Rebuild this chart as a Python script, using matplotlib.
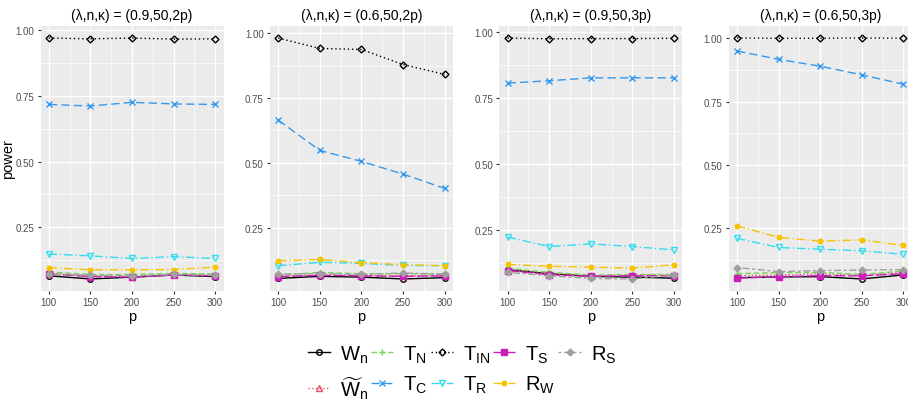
import matplotlib
matplotlib.use("Agg")
import matplotlib.pyplot as plt
from matplotlib.lines import Line2D
from matplotlib.ticker import FixedLocator, FormatStrFormatter

plt.rcParams['font.family'] = ['Liberation Sans', 'DejaVu Sans']
plt.rcParams['mathtext.fontset'] = 'custom'
plt.rcParams['mathtext.rm'] = 'Liberation Sans'
plt.rcParams['mathtext.it'] = 'Liberation Sans'
plt.rcParams['mathtext.bf'] = 'Liberation Sans'

# data
p_values = [100, 150, 200, 250, 300]
panel_titles = ['(λ,n,κ) = (0.9,50,2p)', '(λ,n,κ) = (0.6,50,2p)',
                '(λ,n,κ) = (0.9,50,3p)', '(λ,n,κ) = (0.6,50,3p)']
tests = ['Wn', 'Wtn', 'TN', 'TC', 'TIN', 'TR', 'TS', 'RW', 'RS']
legend_labels = [r'$\mathregular{W_n}$', r'$\mathregular{\widetilde{W}_n}$',
                 r'$\mathregular{T_N}$', r'$\mathregular{T_C}$',
                 r'$\mathregular{T_{IN}}$', r'$\mathregular{T_R}$',
                 r'$\mathregular{T_S}$', r'$\mathregular{R_W}$',
                 r'$\mathregular{R_S}$']

power_09_2p = {
    'Wn':  [0.065, 0.053, 0.060, 0.068, 0.062],
    'Wtn': [0.075, 0.065, 0.062, 0.070, 0.067],
    'TN':  [0.080, 0.070, 0.070, 0.074, 0.072],
    'TC':  [0.718, 0.712, 0.726, 0.720, 0.718],
    'TIN': [0.971, 0.968, 0.971, 0.967, 0.968],
    'TR':  [0.148, 0.141, 0.131, 0.138, 0.131],
    'TS':  [0.072, 0.062, 0.060, 0.068, 0.065],
    'RW':  [0.096, 0.088, 0.088, 0.089, 0.098],
    'RS':  [0.070, 0.067, 0.065, 0.070, 0.067],
}
power_06_2p = {
    'Wn':  [0.055, 0.063, 0.060, 0.053, 0.058],
    'Wtn': [0.064, 0.068, 0.067, 0.065, 0.067],
    'TN':  [0.068, 0.078, 0.073, 0.073, 0.071],
    'TC':  [0.665, 0.548, 0.506, 0.457, 0.402],
    'TIN': [0.981, 0.941, 0.937, 0.879, 0.841],
    'TR':  [0.104, 0.117, 0.113, 0.105, 0.104],
    'TS':  [0.062, 0.067, 0.065, 0.063, 0.065],
    'RW':  [0.123, 0.128, 0.116, 0.108, 0.104],
    'RS':  [0.072, 0.073, 0.071, 0.076, 0.072],
}
power_09_3p = {
    'Wn':  [0.099, 0.084, 0.074, 0.071, 0.067],
    'Wtn': [0.100, 0.084, 0.076, 0.079, 0.079],
    'TN':  [0.105, 0.089, 0.079, 0.081, 0.081],
    'TC':  [0.807, 0.816, 0.827, 0.827, 0.827],
    'TIN': [0.978, 0.975, 0.976, 0.976, 0.977],
    'TR':  [0.223, 0.187, 0.197, 0.187, 0.174],
    'TS':  [0.096, 0.080, 0.074, 0.076, 0.076],
    'RW':  [0.119, 0.112, 0.109, 0.105, 0.118],
    'RS':  [0.089, 0.076, 0.066, 0.064, 0.079],
}
power_06_3p = {
    'Wn':  [0.056, 0.059, 0.060, 0.051, 0.067],
    'Wtn': [0.064, 0.066, 0.072, 0.065, 0.077],
    'TN':  [0.072, 0.076, 0.077, 0.069, 0.082],
    'TC':  [0.949, 0.916, 0.889, 0.855, 0.818],
    'TIN': [1.000, 0.999, 0.999, 1.000, 0.999],
    'TR':  [0.211, 0.175, 0.168, 0.162, 0.148],
    'TS':  [0.054, 0.060, 0.064, 0.063, 0.072],
    'RW':  [0.260, 0.215, 0.200, 0.205, 0.183],
    'RS':  [0.096, 0.080, 0.084, 0.086, 0.088],
}
panels = [power_09_2p, power_06_2p, power_09_3p, power_06_3p]

# style per test: colour, linestyle, marker, filled
styles = {
    'Wn':  ('#000000', '-', 'o', False),
    'Wtn': ('#E8506A', ':', '^', False),
    'TN':  ('#77D45A', (0, (4, 2)), '+', False),
    'TC':  ('#3399EE', (0, (6, 3)), 'x', False),
    'TIN': ('#000000', (0, (1, 2)), 'D', False),
    'TR':  ('#33DDEE', (0, (6, 2, 1, 2)), 'v', False),
    'TS':  ('#CC1FB8', (0, (8, 2)), 's', True),
    'RW':  ('#F5C400', (0, (6, 2, 1, 2)), (8, 2, 0), True),
    'RS':  ('#A0A0A0', (0, (2, 2, 5, 2)), 'D', True),
}


def line_kw(key):
    color, ls, marker, filled = styles[key]
    ms = 3.5 if marker == 'D' else 4
    return dict(color=color, linestyle=ls, linewidth=1.0,
                marker=marker, markersize=ms, markeredgewidth=1.0,
                markerfacecolor=color if filled else 'none',
                markeredgecolor=color)


fig = plt.figure(figsize=(9.08, 4.02), dpi=100)
W, H = 908, 402
left0, step, width = 40.5, 229.4, 183
top, bottom = 27, 292

for i, (data, title) in enumerate(zip(panels, panel_titles)):
    x0 = left0 + i * step
    ax = fig.add_axes([x0 / W, 1 - bottom / H, width / W, (bottom - top) / H])
    ax.set_facecolor('#EBEBEB')
    for key in tests:
        ax.plot(p_values, data[key], zorder=3, **line_kw(key))
    ax.margins(x=0.05, y=0.05)
    ax.xaxis.set_major_locator(FixedLocator([100, 150, 200, 250, 300]))
    ax.xaxis.set_minor_locator(FixedLocator([125, 175, 225, 275]))
    ax.yaxis.set_major_locator(FixedLocator([0.25, 0.5, 0.75, 1.0]))
    ax.yaxis.set_minor_locator(FixedLocator([0.125, 0.375, 0.625, 0.875]))
    ax.yaxis.set_major_formatter(FormatStrFormatter('%.2f'))
    ax.grid(which='major', color='white', linewidth=1.0)
    ax.grid(which='minor', color='white', linewidth=0.5)
    ax.set_axisbelow(True)
    for s in ax.spines.values():
        s.set_visible(False)
    ax.tick_params(which='major', length=2.5, width=0.8, color='#333333',
                   labelcolor='#4D4D4D', labelsize=7, pad=2)
    ax.tick_params(which='minor', length=0)
    ax.set_title(title, fontsize=10, pad=5, color='black')
    ax.set_xlabel('p', fontsize=10.5, labelpad=1)
    if i == 0:
        ax.set_ylabel('power', fontsize=10.5)
        ax.yaxis.set_label_coords(-(x0 - 15.5) / width, 0.5)

handles = [Line2D([], [], **line_kw(k)) for k in tests]
fig.legend(handles, legend_labels, ncol=5, loc='center',
           bbox_to_anchor=(462 / W, 1 - 373 / H), frameon=False,
           fontsize=14.5, handlelength=1.1, handletextpad=0.5,
           columnspacing=0.15, labelspacing=0.45, borderpad=0.2)

fig.savefig('out.png', dpi=100)
